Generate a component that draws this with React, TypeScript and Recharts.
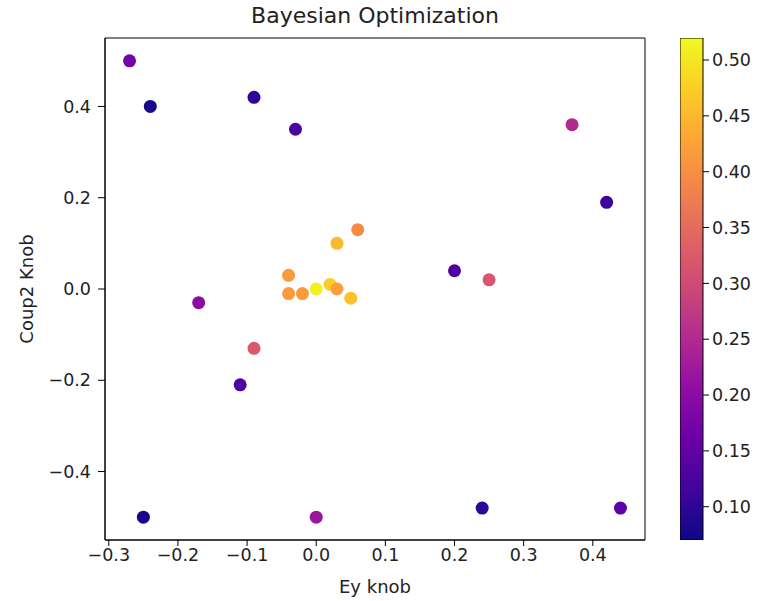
import React from "react";
import {
  ScatterChart,
  Scatter,
  XAxis,
  YAxis,
  Cell,
  ReferenceArea,
  Label,
  BarChart,
  Bar,
} from "recharts";

// Sampled points (Ey knob, Coup2 Knob) and the objective value for each
const eyKnob = [
  -0.27, -0.24, -0.09, -0.03, 0.37, 0.42, 0.06, 0.03, 0.2, 0.25, -0.04, -0.04,
  -0.02, 0.0, 0.02, 0.03, 0.05, -0.17, -0.09, -0.11, -0.25, 0.0, 0.24, 0.44,
];
const coup2Knob = [
  0.5, 0.4, 0.42, 0.35, 0.36, 0.19, 0.13, 0.1, 0.04, 0.02, 0.03, -0.01, -0.01,
  0.0, 0.01, 0.0, -0.02, -0.03, -0.13, -0.21, -0.5, -0.5, -0.48, -0.48,
];
const objective = [
  0.17, 0.08, 0.1, 0.125, 0.25, 0.11, 0.395, 0.45, 0.13, 0.32, 0.415, 0.415,
  0.415, 0.51, 0.475, 0.42, 0.46, 0.2, 0.325, 0.13, 0.08, 0.22, 0.097, 0.147,
];

const xTicks = [-0.3, -0.2, -0.1, 0.0, 0.1, 0.2, 0.3, 0.4];
const yTicks = [-0.4, -0.2, 0.0, 0.2, 0.4];
const cbTicks = [0.1, 0.15, 0.2, 0.25, 0.3, 0.35, 0.4, 0.45, 0.5];

const X_DOMAIN: [number, number] = [-0.3055, 0.4755];
const Y_DOMAIN: [number, number] = [-0.55, 0.55];
const V_MIN = 0.0702;
const V_MAX = 0.5197;

// matplotlib "plasma" anchors (0, 0.1, ..., 1)
const PLASMA = [
  "#0d0887", "#41049d", "#6a00a8", "#8f0da4", "#b12a90", "#cc4778",
  "#e16462", "#f2844b", "#fca636", "#fcce25", "#f0f921",
];

const hexToRgb = (h: string) => [
  parseInt(h.slice(1, 3), 16),
  parseInt(h.slice(3, 5), 16),
  parseInt(h.slice(5, 7), 16),
];

function plasma(v: number) {
  let t = (v - V_MIN) / (V_MAX - V_MIN);
  t = Math.max(0, Math.min(1, t));
  const pos = t * (PLASMA.length - 1);
  const i = Math.min(Math.floor(pos), PLASMA.length - 2);
  const f = pos - i;
  const a = hexToRgb(PLASMA[i]);
  const b = hexToRgb(PLASMA[i + 1]);
  const c = a.map((ch, k) => Math.round(ch + (b[k] - ch) * f));
  return `rgb(${c[0]},${c[1]},${c[2]})`;
}

const fmt = (v: number, d: number) =>
  (v < -1e-9 ? "\u2212" : "") + Math.abs(v).toFixed(d);

const points = eyKnob.map((x, i) => ({ x, y: coup2Knob[i], v: objective[i] }));
const colorbarData = [{ name: "cb", range: [V_MIN, V_MAX] }];

const FONT = "'DejaVu Sans', sans-serif";
const tickStyle = { fontSize: 17.5, fill: "#222" };
const labelStyle = { fontSize: 18, fill: "#222" };

export default function App() {
  return (
    <div
      style={{
        position: "absolute",
        left: 0,
        top: 0,
        width: 771,
        height: 601,
        background: "#fff",
        fontFamily: FONT,
      }}
    >
      <svg width={0} height={0} style={{ position: "absolute" }}>
        <defs>
          <linearGradient id="plasmaGrad" x1="0" y1="1" x2="0" y2="0">
            {PLASMA.map((c, i) => (
              <stop key={i} offset={i / (PLASMA.length - 1)} stopColor={c} />
            ))}
          </linearGradient>
        </defs>
      </svg>

      <div
        style={{
          position: "absolute",
          left: 105,
          width: 540,
          top: 3,
          textAlign: "center",
          fontSize: 22,
          lineHeight: "26px",
          color: "#222",
        }}
      >
        Bayesian Optimization
      </div>

      <div style={{ position: "absolute", left: 0, top: 0 }}>
        <ScatterChart
          width={771}
          height={601}
          margin={{ top: 38, right: 126, bottom: 5, left: 0 }}
        >
          <XAxis
            type="number"
            dataKey="x"
            domain={X_DOMAIN}
            ticks={xTicks}
            allowDataOverflow
            height={56}
            tickSize={6}
            tickMargin={3}
            tick={tickStyle}
            tickLine={{ stroke: "#000" }}
            axisLine={{ stroke: "#000" }}
            tickFormatter={(v: number) => fmt(v, 1)}
          >
            <Label
              value="Ey knob"
              position="insideBottom"
              offset={3}
              style={labelStyle}
            />
          </XAxis>
          <YAxis
            type="number"
            dataKey="y"
            domain={Y_DOMAIN}
            ticks={yTicks}
            allowDataOverflow
            width={105}
            tickSize={7}
            tickMargin={7}
            tick={tickStyle}
            tickLine={{ stroke: "#000" }}
            axisLine={{ stroke: "#000" }}
            tickFormatter={(v: number) => fmt(v, 1)}
          >
            <Label
              value="Coup2 Knob"
              angle={-90}
              position="insideLeft"
              offset={27}
              style={{ ...labelStyle, textAnchor: "middle" }}
            />
          </YAxis>
          <ReferenceArea
            x1={X_DOMAIN[0]}
            x2={X_DOMAIN[1]}
            y1={Y_DOMAIN[0]}
            y2={Y_DOMAIN[1]}
            fill="none"
            stroke="#000"
            strokeWidth={1}
          />
          <Scatter
            data={points}
            isAnimationActive={false}
            shape={(p: any) => (
              <circle cx={p.cx} cy={p.cy} r={6.5} fill={p.fill} />
            )}
          >
            {points.map((pt, i) => (
              <Cell key={`pt-${i}`} fill={plasma(pt.v)} />
            ))}
          </Scatter>
        </ScatterChart>
      </div>

      {/* colorbar */}
      <div style={{ position: "absolute", left: 680, top: 0 }}>
        <BarChart
          width={91}
          height={601}
          data={colorbarData}
          margin={{ top: 38, right: 0, bottom: 61, left: 0 }}
          barCategoryGap={0}
        >
          <XAxis dataKey="name" hide />
          <YAxis
            orientation="right"
            type="number"
            domain={[V_MIN, V_MAX]}
            ticks={cbTicks}
            allowDataOverflow
            width={68}
            tickSize={6}
            tickMargin={3}
            tick={tickStyle}
            tickLine={{ stroke: "#000" }}
            axisLine={false}
            tickFormatter={(v: number) => v.toFixed(2)}
          />
          <Bar
            dataKey="range"
            fill="url(#plasmaGrad)"
            stroke="#000"
            strokeWidth={1}
            isAnimationActive={false}
          />
        </BarChart>
      </div>
    </div>
  );
}
